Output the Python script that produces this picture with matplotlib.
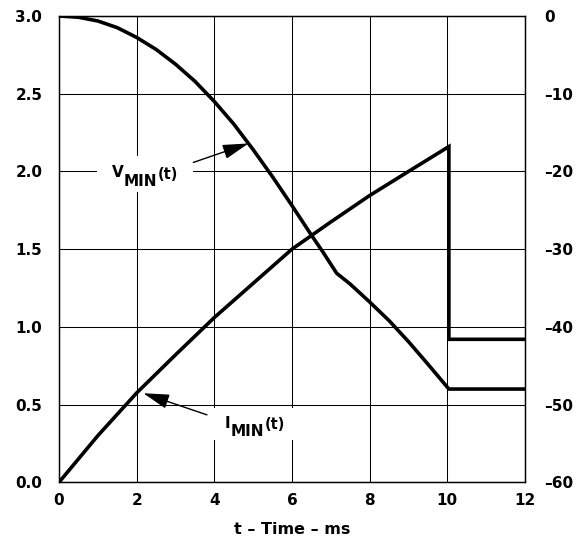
import matplotlib
matplotlib.use("Agg")
import matplotlib.pyplot as plt
from matplotlib.patches import Rectangle

# ---- data ----
t_v = [0, 0.5, 1, 1.5, 2, 2.5, 3, 3.5, 4, 4.5, 5, 5.5, 6, 6.5, 6.8, 7.15, 7.5, 8, 8.5, 9, 9.5, 10.04, 12]
v_min = [3.0, 2.992, 2.968, 2.925, 2.862, 2.785, 2.69, 2.58, 2.45, 2.305, 2.14, 1.965, 1.78, 1.59, 1.48, 1.345,
         1.275, 1.16, 1.04, 0.905, 0.76, 0.60, 0.60]

t_i = [0, 1, 2, 3, 4, 5, 6, 7, 8, 9, 10.04, 10.04, 12]
i_min = [-60, -54, -48.5, -43.6, -38.8, -34.4, -30, -26.5, -23.1, -20, -16.8, -41.6, -41.6]

x_ticks = [0, 2, 4, 6, 8, 10, 12]
left_ticks = [0.0, 0.5, 1.0, 1.5, 2.0, 2.5, 3.0]
right_ticks = [-60, -50, -40, -30, -20, -10, 0]
right_labels = ["\u201360", "\u201350", "\u201340", "\u201330", "\u201320", "\u201310", "0"]
xlabel = "t \u2013 Time \u2013 ms"

plt.rcParams['font.family'] = ['DejaVu Sans']
plt.rcParams['font.weight'] = 'bold'

fig = plt.figure(figsize=(5.82, 5.5), dpi=100)
ax = fig.add_axes([59/582, 1-482.3/550, (525-59)/582, (482.3-16)/550])
ax2 = ax.twinx()

ax.set_xlim(0, 12)
ax.set_ylim(0, 3.0)
ax2.set_ylim(-60, 0)

ax.set_xticks(x_ticks)
ax.set_xticklabels([str(x) for x in x_ticks], fontsize=11, fontweight='bold')
ax.set_yticks(left_ticks)
ax.set_yticklabels([f"{v:.1f}" for v in left_ticks], fontsize=11, fontweight='bold')
ax2.set_yticks(right_ticks)
ax2.set_yticklabels(right_labels, fontsize=11, fontweight='bold')

ax.tick_params(axis='x', length=0, pad=8)
ax.tick_params(axis='y', length=0, pad=12)
ax2.tick_params(axis='y', length=0, pad=14)

ax.grid(True, color='black', lw=0.75)
for a in (ax, ax2):
    for s in a.spines.values():
        s.set_linewidth(0.9)
        s.set_color('black')

ax.set_xlabel(xlabel, fontsize=11.5, fontweight='bold', labelpad=10)

# white boxes behind labels (break grid lines)
ax.add_patch(Rectangle((0.98, 1.87), 2.47, 0.23, facecolor='white', edgecolor='none', zorder=1.8))
ax.add_patch(Rectangle((3.76, 0.27), 2.39, 0.205, facecolor='white', edgecolor='none', zorder=1.8))

ax.plot(t_v, v_min, color='black', lw=2.6, zorder=3, solid_joinstyle='round')
ax2.plot(t_i, i_min, color='black', lw=2.6, zorder=3, solid_joinstyle='miter')

# labels
def label(x, y_main, y_sub, y_t, main, msize):
    t1 = ax.text(x, y_main, main, fontsize=msize, fontweight='bold', ha='left', va='baseline', zorder=4)
    t2 = ax.annotate('MIN', xy=(1.0, y_sub), xycoords=(t1, 'data'), xytext=(0.3, 0),
                     textcoords='offset points', fontsize=11, fontweight='bold',
                     ha='left', va='baseline', zorder=4)
    ax.annotate('(t)', xy=(1.0, y_t), xycoords=(t2, 'data'), xytext=(0.3, 0),
                textcoords='offset points', fontsize=10.5, fontweight='bold',
                ha='left', va='baseline', zorder=4)

label(1.358, 1.961, 1.908, 1.950, 'V', 11)
label(4.26, 0.350, 0.295, 0.345, 'I', 11)

arrow = dict(arrowstyle='-|>,head_length=1.6,head_width=0.45', lw=1.0, color='black',
             shrinkA=0, shrinkB=0, mutation_scale=10)
ax.annotate('', xy=(4.88, 2.18), xytext=(3.46, 2.058), arrowprops=arrow, zorder=4)
ax.annotate('', xy=(2.17, 0.573), xytext=(3.81, 0.434), arrowprops=arrow, zorder=4)

fig.savefig('out.png', dpi=100)
